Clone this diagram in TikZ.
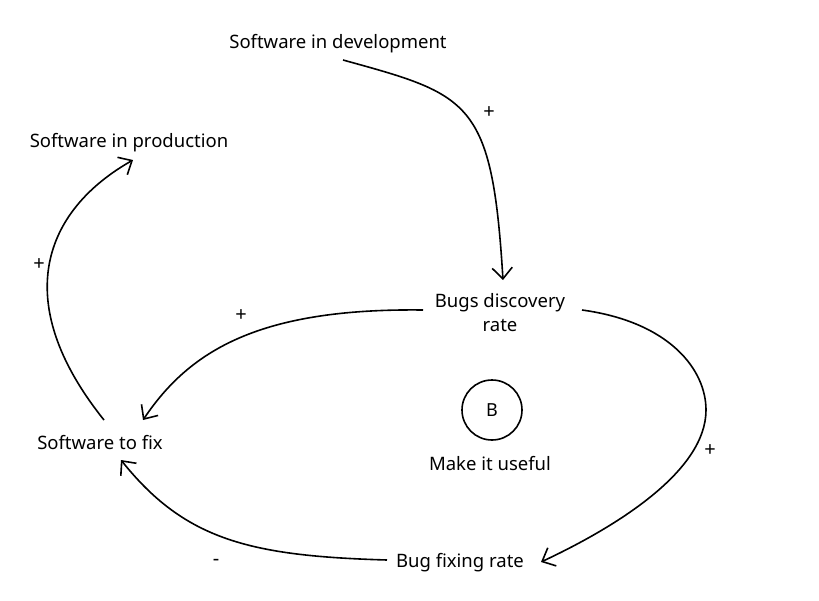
\documentclass[tikz,border=0pt]{standalone}
\usepackage{fontspec}
\setmainfont{Noto Sans}
\usetikzlibrary{arrows.meta}
\begin{document}
\begin{tikzpicture}[x=1pt,y=-1pt,
  lbl/.style={font=\fontsize{18.5}{24}\selectfont, inner sep=0pt, align=center},
  sign/.style={font=\fontsize{20}{20}\selectfont, inner sep=0pt},
  link/.style={line width=1.6pt, -{Straight Barb[length=11pt,width=20pt,line width=1.6pt]}}]
\useasboundingbox (0,0) rectangle (819,600);
\node[lbl] (dev) at (338,44) {Software in development};
\node[lbl] (prod) at (129,143) {Software in production};
\node[lbl] (bugs) at (500,313) {Bugs discovery\\rate};
\node[lbl] (fix) at (100,443) {Software to fix};
\node[lbl] (rate) at (460,563) {Bug fixing rate};
\node[draw, circle, line width=1.6pt, minimum size=60pt, inner sep=0pt, font=\fontsize{18}{20}\selectfont] (b) at (492,410) {B};
\node[lbl] (use) at (490,464) {Make it useful};
\node[sign] (p1) at (489,113) {+};
\node[sign] (p2) at (241,316) {+};
\node[sign] (p3) at (710,451) {+};
\node[sign] (p4) at (39,265) {+};
\node[sign] (m1) at (216,562) {-};
\coordinate (devE) at (343,60);
\coordinate (bugsN) at (503,280);
\coordinate (bugsW) at (423,310);
\coordinate (bugsE) at (582,310);
\coordinate (fixNE) at (143,420);
\coordinate (fixN) at (104,420);
\coordinate (fixSE) at (121,460);
\coordinate (prodS) at (133,160);
\coordinate (rateW) at (387,560);
\coordinate (rateE) at (541,562);
\coordinate (loopR) at (706,410);
\draw[link] (devE) .. controls (470,95) and (492,100) .. (bugsN);
\draw[link] (bugsW) .. controls (260,308) and (190,350) .. (fixNE);
\draw[link, -] (bugsE) .. controls (670,322) and (706,370) .. (loopR);
\draw[link] (loopR) .. controls (706,470) and (620,525) .. (rateE);
\draw[link] (rateW) .. controls (250,556) and (185,540) .. (fixSE);
\draw[link] (fixN) .. controls (8,300) and (45,210) .. (prodS);
\end{tikzpicture}
\end{document}
